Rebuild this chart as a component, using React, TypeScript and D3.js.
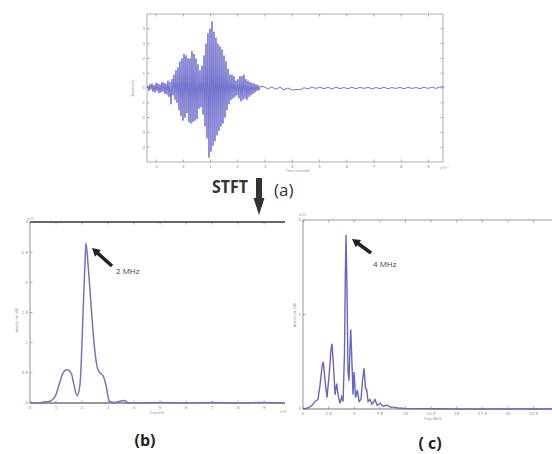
import React from "react";
import * as d3 from "d3";

// (a) time signal: one sample per aDt through the burst, one per 4*aDt through the tail
const aStart = -1.333;
const aDt = 0.0367;
const aBurst = [
  0, 0.15, -0.2, 0.25, -0.1, 0.3, -0.25, 0.2, -0.3, 0.35,
  -0.2, 0.3, -0.35, 0.25, -0.3, 0.4, -0.25, 0.35, -0.4, 0.3,
  -0.45, 0.5, -0.6, 0.4, -1.1, 0.6, -0.5, 0.9, -0.8, 1.2,
  -1.0, 1.4, -1.5, 1.8, -1.9, 2.0, -2.2, 2.3, -2.0, 2.2,
  -1.7, 2.0, -2.3, 2.0, -2.4, 2.5, -2.3, 2.3, -2.2, 2.0,
  -2.1, 1.6, -1.4, 1.2, -1.3, 1.5, -1.8, 2.2, -2.6, 3.0,
  -3.4, 3.7, -4.7, 4.0, -4.3, 4.5, -3.9, 3.8, -3.6, 3.4,
  -3.2, 3.0, -2.9, 2.8, -2.6, 2.6, -2.4, 2.2, -2.0, 1.8,
  -1.5, 1.3, -1.1, 0.9, -0.8, 0.9, -0.7, 0.8, -0.6, 0.5,
  -0.5, 0.6, -0.7, 0.8, -0.9, 0.8, -0.8, 0.9, -0.7, 0.6,
  -0.8, 0.5, -0.6, 0.4, -0.5, 0.35, -0.4, 0.3, -0.3, 0.25,
  -0.2, 0.2, -0.15, 0.1,
];
const aTail = [
  0.08, -0.06, 0.07, -0.08, 0.05, -0.12, 0.0, -0.14, -0.1, -0.12,
  0.02, -0.06, 0.05, -0.03, 0.06, -0.05, 0.04, -0.06, 0.05, -0.04,
  0.03, -0.05, 0.06, -0.05, 0.04, -0.03, 0.05, -0.06, 0.03, -0.04,
  0.05, -0.05, 0.03, -0.03, 0.04, -0.05, 0.05, -0.03, 0.03, -0.04,
  0.05, -0.03, 0.06, -0.03, 0.08, 0.05,
];
const aXTicks = [-1, 0, 1, 2, 3, 4, 5, 6, 7, 8, 9];
const aYTicks = [-4, -3, -2, -1, 0, 1, 2, 3, 4];

// (b) spectrum, MHz vs amplitude (x10^4)
const bFreq = [0, 0.3, 0.6, 0.77, 0.96, 1.15, 1.27, 1.42, 1.58, 1.69, 1.81, 1.92, 2.04, 2.12, 2.15, 2.23, 2.35, 2.46, 2.58, 2.69, 2.81, 2.92, 3.0, 3.08, 3.27, 3.46, 3.62, 3.77, 4.04, 5, 6, 7, 8, 9, 9.8];
const bAmp = [0.01, 0, 0.02, 0.03, 0.1, 0.35, 0.5, 0.55, 0.5, 0.3, 0.12, 0.3, 1.5, 2.4, 2.65, 2.3, 1.6, 1.0, 0.6, 0.5, 0.45, 0.3, 0.1, 0.02, 0.01, 0.03, 0.04, 0.01, 0, 0.01, 0, 0.01, 0, 0.01, 0];
const bXTicks = [0, 1, 2, 3, 4, 5, 6, 7, 8, 9];
const bYTicks = [0, 0.5, 1, 1.5, 2, 2.5, 3];

// (c) spectrum
const cFreq = [0, 0.49, 0.88, 1.17, 1.46, 1.66, 1.86, 1.98, 2.15, 2.34, 2.54, 2.73, 2.83, 2.98, 3.13, 3.29, 3.42, 3.61, 3.78, 3.91, 4.05, 4.13, 4.2, 4.3, 4.39, 4.49, 4.59, 4.66, 4.79, 4.88, 4.98, 5.13, 5.3, 5.47, 5.66, 5.81, 5.96, 6.1, 6.22, 6.35, 6.54, 6.74, 7.03, 7.23, 7.52, 7.81, 8.2, 8.5, 8.79, 9.28, 9.96, 15, 20, 24.3];
const cAmp = [0, 0.01, 0.04, 0.08, 0.1, 0.25, 0.45, 0.5, 0.3, 0.12, 0.35, 0.62, 0.69, 0.45, 0.15, 0.27, 0.15, 0.06, 0.13, 0.08, 0.6, 1.4, 1.84, 1.2, 0.4, 0.3, 0.65, 0.84, 0.45, 0.15, 0.39, 0.12, 0.2, 0.08, 0.1, 0.3, 0.43, 0.22, 0.2, 0.08, 0.1, 0.05, 0.1, 0.04, 0.06, 0.03, 0.04, 0.02, 0.02, 0.01, 0.005, 0, 0, 0];
const cXTicks = [0, 2.5, 5, 7.5, 10, 12.5, 15, 17.5, 20, 22.5];
const cYTicks = [0, 1, 2];

const TICK_FONT = "'DejaVu Sans', sans-serif";

// thick block arrow from tail to head
const arrowPath = (x1: number, y1: number, x2: number, y2: number, shaft: number, head: number, headLen: number) => {
  const dx = x2 - x1, dy = y2 - y1;
  const len = Math.hypot(dx, dy);
  const ux = dx / len, uy = dy / len;
  const px = -uy, py = ux;
  const bx = x2 - ux * headLen, by = y2 - uy * headLen;
  const pts = [
    [x1 + px * shaft / 2, y1 + py * shaft / 2],
    [bx + px * shaft / 2, by + py * shaft / 2],
    [bx + px * head / 2, by + py * head / 2],
    [x2, y2],
    [bx - px * head / 2, by - py * head / 2],
    [bx - px * shaft / 2, by - py * shaft / 2],
    [x1 - px * shaft / 2, y1 - py * shaft / 2],
  ];
  return "M" + pts.map(p => p.join(",")).join("L") + "Z";
};

const Axes = ({ x, y, xTicks, yTicks, frame, right }: any) => {
  const [x0, x1] = x.range();
  const [y0, y1] = y.range();
  return (
    <g>
      {xTicks.map((t: number, i: number) => (
        <g key={"x" + i}>
          <line x1={x(t)} x2={x(t)} y1={y0} y2={y0 - 2.5} stroke="#777" strokeWidth={0.6} />
          <line x1={x(t)} x2={x(t)} y1={y1} y2={y1 + 2.5} stroke="#777" strokeWidth={0.6} />
          <text x={x(t)} y={y0 + 5.5} fontSize={4} fill="#888" textAnchor="middle" fontFamily={TICK_FONT}>{String(t)}</text>
        </g>
      ))}
      {yTicks.map((t: number, i: number) => (
        <g key={"y" + i}>
          <line x1={x0} x2={x0 + 2.5} y1={y(t)} y2={y(t)} stroke="#777" strokeWidth={0.6} />
          {right && <line x1={x1} x2={x1 - 2.5} y1={y(t)} y2={y(t)} stroke="#777" strokeWidth={0.6} />}
          <text x={x0 - 2} y={y(t) + 1.4} fontSize={4} fill="#888" textAnchor="end" fontFamily={TICK_FONT}>{String(t)}</text>
        </g>
      ))}
      {frame}
    </g>
  );
};

export default function App() {
  // panel (a)
  const ax = d3.scaleLinear().domain([-1.333, 9.533]).range([147, 443]);
  const ay = d3.scaleLinear().domain([-5, 5]).range([162, 14]);
  const burstEnd = aStart + (aBurst.length - 1) * aDt;
  const aPoints: [number, number][] = [
    ...aBurst.map((v, i) => [aStart + i * aDt, v] as [number, number]),
    ...aTail.map((v, i) => [burstEnd + (i + 1) * 4 * aDt, v] as [number, number]),
  ];
  const aLine = d3.line<[number, number]>().x(d => ax(d[0])).y(d => ay(d[1]));

  // panel (b)
  const bx = d3.scaleLinear().domain([0, 9.8]).range([30, 285]);
  const by = d3.scaleLinear().domain([0, 3]).range([403, 222]);
  const bLine = d3.line<number>().x((_, i) => bx(bFreq[i])).y(d => by(d)).curve(d3.curveMonotoneX);

  // panel (c)
  const cx = d3.scaleLinear().domain([0, 24.3]).range([303, 552]);
  const cy = d3.scaleLinear().domain([0, 2]).range([409, 220]);
  const cLine = d3.line<number>().x((_, i) => cx(cFreq[i])).y(d => cy(d));

  return (
    <svg width={552} height={454} style={{ position: "absolute", left: 0, top: 0, background: "#fff" }}
      fontFamily="'Open Sans', 'DejaVu Sans', sans-serif">
      {/* (a) */}
      <Axes x={ax} y={ay} xTicks={aXTicks} yTicks={aYTicks} right
        frame={<rect x={147} y={14} width={296} height={148} fill="none" stroke="#999" strokeWidth={0.8} />} />
      <path d={aLine(aPoints) || ""} fill="none" stroke="#5c5cc6" strokeWidth={1} strokeOpacity={0.85} />
      <text x={134} y={88} fontSize={3.5} fill="#888" textAnchor="middle" transform="rotate(-90 134 88)">Amplitude</text>
      <text x={298} y={172} fontSize={3.5} fill="#888" textAnchor="middle">Time (seconds)</text>
      <text x={440} y={169} fontSize={3.5} fill="#888">x10⁻⁵</text>

      {/* STFT arrow */}
      <text x={212} y={193} fontSize={17} fontWeight="bold" fill="#333" textLength={36} lengthAdjust="spacingAndGlyphs">STFT</text>
      <path d={arrowPath(259, 178, 259, 215, 6, 11, 17)} fill="#333" />
      <text x={274} y={196} fontSize={17} fill="#333">(a)</text>

      {/* (b) */}
      <Axes x={bx} y={by} xTicks={bXTicks} yTicks={bYTicks}
        frame={<g>
          <line x1={30} x2={30} y1={222} y2={403} stroke="#888" strokeWidth={0.9} />
          <line x1={30} x2={285} y1={222} y2={222} stroke="#666" strokeWidth={1.8} />
          <line x1={30} x2={285} y1={403} y2={403} stroke="#777" strokeWidth={1.6} />
        </g>} />
      <path d={bLine(bAmp) || ""} fill="none" stroke="#7474c4" strokeWidth={1.5} />
      <text x={27} y={220} fontSize={3.5} fill="#888">x10⁴</text>
      <text x={18} y={320} fontSize={3.5} fill="#888" textAnchor="middle" transform="rotate(-90 18 320)">Amplitude (dB)</text>
      <text x={157} y={414} fontSize={3.5} fill="#888" textAnchor="middle">Freq (Hz)</text>
      <text x={280} y={413} fontSize={3.5} fill="#888">x10⁶</text>
      <path d={arrowPath(112, 266, 92, 248, 3.5, 9, 8)} fill="#222" />
      <text x={116} y={274} fontSize={8} fill="#444">2 MHz</text>
      <text x={145} y={446} fontSize={16} fontWeight="bold" fill="#222" textAnchor="middle">(b)</text>

      {/* (c) */}
      <Axes x={cx} y={cy} xTicks={cXTicks} yTicks={cYTicks}
        frame={<g>
          <line x1={303} x2={303} y1={220} y2={409} stroke="#888" strokeWidth={0.9} />
          <line x1={303} x2={552} y1={220} y2={220} stroke="#999" strokeWidth={1} />
          <line x1={303} x2={552} y1={409} y2={409} stroke="#777" strokeWidth={1.2} />
        </g>} />
      <path d={cLine(cAmp) || ""} fill="none" stroke="#6666c4" strokeWidth={1.4} />
      <text x={299} y={216} fontSize={3.5} fill="#888">x10⁴</text>
      <text x={296} y={315} fontSize={3.5} fill="#888" textAnchor="middle" transform="rotate(-90 296 315)">Amplitude (dB)</text>
      <text x={433} y={420} fontSize={3.5} fill="#888" textAnchor="middle">Freq (MHz)</text>
      <path d={arrowPath(371, 253, 352, 239, 3.5, 9, 8)} fill="#222" />
      <text x={373} y={267} fontSize={8} fill="#444">4 MHz</text>
      <text x={430} y={449} fontSize={16} fontWeight="bold" fill="#222" textAnchor="middle">( c)</text>
    </svg>
  );
}
